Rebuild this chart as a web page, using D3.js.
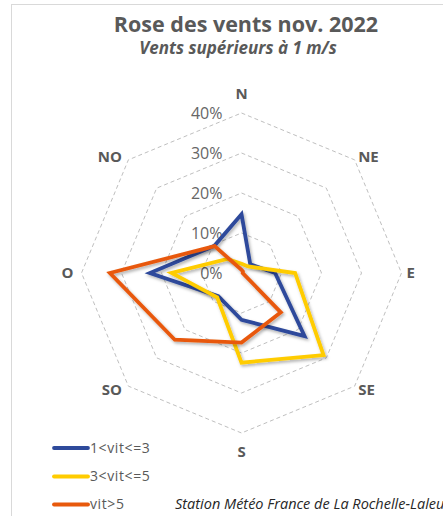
<!DOCTYPE html>
<html>
<head>
<meta charset="utf-8">
<script src="https://cdn.jsdelivr.net/npm/d3@7"></script>
<style>
  html, body { margin: 0; padding: 0; background: #fff; }
  svg { display: block; font-family: "Open Sans", "Noto Sans", sans-serif; }
</style>
</head>
<body>
<svg id="chart" width="443" height="516"></svg>
<script>
const directions = ["N", "NE", "E", "SE", "S", "SO", "O", "NO"];
const seriesNames = ["1<vit<=3", "3<vit<=5", "vit>5"];
const seriesLow = [14.7, 3.1, 8.4, 22.3, 11.7, 8.2, 22.9, 9.6];
const seriesMid = [2.3, 2.3, 13.4, 29.0, 22.4, 8.6, 17.5, 5.0];
const seriesHigh = [0.8, 0.5, 0.3, 13.9, 17.4, 23.6, 32.9, 9.5];
const seriesColors = ["#2E4A9B", "#FFCC00", "#E8590C"];
const tickValues = [0, 10, 20, 30, 40];
const tickLabels = ["0%", "10%", "20%", "30%", "40%"];
const titleText = "Rose des vents nov. 2022";
const subtitleText = "Vents supérieurs à 1 m/s";
const footText = "Station Météo France de La Rochelle-Laleu";

const svg = d3.select("#chart");
const W = 443, H = 516;
const cx = 241.5, cy = 273;
const textColor = "#595959";

// frame
svg.append("rect").attr("x", 11.5).attr("y", 4.5).attr("width", W + 20).attr("height", H + 20)
  .attr("fill", "none").attr("stroke", "#D9D9D9").attr("stroke-width", 1);

const defs = svg.append("defs");
const f = defs.append("filter").attr("id", "shadow").attr("x", "-20%").attr("y", "-20%").attr("width", "140%").attr("height", "140%");
f.append("feDropShadow").attr("dx", 1.5).attr("dy", 2).attr("stdDeviation", 1.6)
  .attr("flood-color", "#000").attr("flood-opacity", 0.3);

// title
svg.append("text").attr("x", 246).attr("y", 32).attr("text-anchor", "middle")
  .attr("font-size", 21.5).attr("font-weight", "bold").attr("fill", textColor).text(titleText);
svg.append("text").attr("x", 238).attr("y", 54).attr("text-anchor", "middle")
  .attr("font-size", 17).attr("font-weight", "bold").attr("font-style", "italic")
  .attr("fill", textColor).text(subtitleText);

const r = d3.scaleLinear().domain([0, 40]).range([0, 160]);
const angle = d3.scalePoint().domain(directions).range([0, 2 * Math.PI * (directions.length - 1) / directions.length]);

const g = svg.append("g").attr("transform", `translate(${cx},${cy})`);

// grid rings
const ringLine = d3.lineRadial().angle(d => angle(d)).curve(d3.curveLinearClosed);
tickValues.filter(v => v > 0).forEach(v => {
  g.append("path")
    .attr("d", ringLine.radius(() => r(v))(directions))
    .attr("fill", "none").attr("stroke", "#BFBFBF").attr("stroke-width", 1)
    .attr("stroke-dasharray", "4,3");
});

// tick labels
g.selectAll("text.tick").data(tickValues).join("text")
  .attr("class", "tick")
  .attr("x", -19).attr("y", d => -r(d)).attr("dy", "0.35em")
  .attr("text-anchor", "end").attr("font-size", 16).attr("fill", "#666666")
  .text((d, i) => tickLabels[i]);

// direction labels
const labelR = 165;
directions.forEach(d => {
  const a = angle(d);
  const s = Math.sin(a), c = Math.cos(a);
  const px = labelR * s, py = -labelR * c;
  let anchor = "middle", yOff = 0;
  if (Math.abs(s) < 1e-6) { yOff = c > 0 ? -14 : 14; }
  else anchor = s > 0 ? "start" : "end";
  g.append("text").attr("x", px + (anchor === "start" ? 0 : anchor === "end" ? -3 : 0))
    .attr("y", py + yOff).attr("dy", "0.35em")
    .attr("text-anchor", anchor).attr("font-size", 15).attr("font-weight", "bold")
    .attr("fill", textColor).text(d);
});

// series
const allSeries = [seriesLow, seriesMid, seriesHigh];
const line = d3.lineRadial()
  .angle((d, i) => angle(directions[i]))
  .radius(d => r(d))
  .curve(d3.curveLinearClosed);

allSeries.forEach((vals, k) => {
  g.append("path").attr("d", line(vals))
    .attr("fill", "none").attr("stroke", seriesColors[k]).attr("stroke-width", 3.8)
    .attr("stroke-linejoin", "miter").attr("filter", "url(#shadow)");
});

// legend
const legY = [448, 476.5, 504.5];
seriesNames.forEach((n, k) => {
  svg.append("line").attr("x1", 54).attr("x2", 88).attr("y1", legY[k]).attr("y2", legY[k])
    .attr("stroke", seriesColors[k]).attr("stroke-width", 3.8).attr("stroke-linecap", "round");
  svg.append("text").attr("x", 90).attr("y", legY[k]).attr("dy", "0.35em")
    .attr("font-size", 14).attr("letter-spacing", 0.6).attr("fill", textColor).text(n);
});

// footnote
svg.append("text").attr("x", 175).attr("y", 504).attr("dy", "0.35em")
  .attr("font-size", 14.5).attr("font-style", "italic").attr("fill", "#262626").text(footText);
</script>
</body>
</html>
